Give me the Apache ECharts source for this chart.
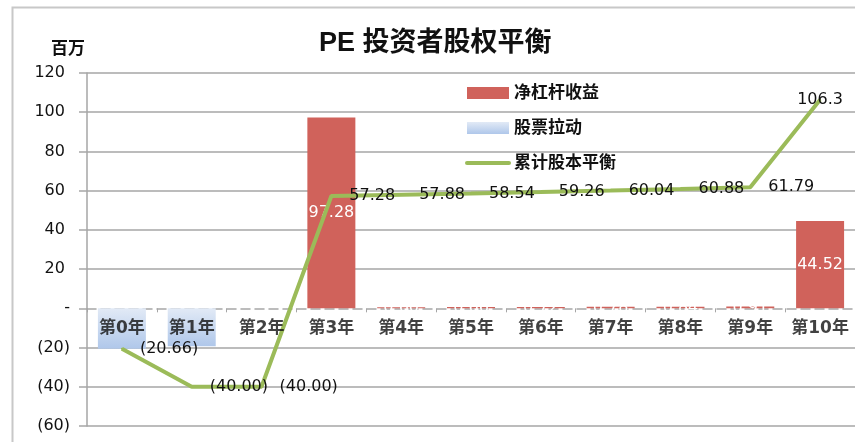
<!DOCTYPE html>
<html>
<head>
<meta charset="utf-8">
<script src="https://cdn.jsdelivr.net/npm/echarts@6/dist/echarts.min.js"></script>
<style>
html,body{margin:0;padding:0;background:#fff;}
#chart{width:855px;height:442px;}
</style>
</head>
<body>
<div id="chart"></div>
<script>
const categories = ['第0年','第1年','第2年','第3年','第4年','第5年','第6年','第7年','第8年','第9年','第10年'];
const netLeverage = [null, null, null, 97.28, 0.60, 0.66, 0.72, 0.78, 0.84, 0.91, 44.52];
const stockPull = [-20.66, -19.34, null, null, null, null, null, null, null, null, null];
const cumulative = [-20.66, -40.00, -40.00, 57.28, 57.88, 58.54, 59.26, 60.04, 60.88, 61.79, 106.3];
const seriesNames = ['净杠杆收益', '股票拉动', '累计股本平衡'];
const yMin = -60, yMax = 120, yStep = 20;

const CJK = '"Liberation Sans","Noto Sans CJK SC",sans-serif';
const NUM = '"DejaVu Sans","Noto Sans CJK SC",sans-serif';
const chart = echarts.init(document.getElementById('chart'));

const gridColors = [];
for (let v = yMin; v <= yMax; v += yStep) gridColors.push(v === 0 ? 'rgba(0,0,0,0)' : '#A6A6A6');

const lineData = cumulative.map((v, i) => {
  if (i === cumulative.length - 1) return { value: v, label: { position: 'inside' } };
  return v;
});

chart.setOption({
  animation: false,
  textStyle: { fontFamily: CJK },
  graphic: [{
    type: 'rect', left: 10, top: 5, z: -10,
    shape: { width: 900, height: 500 },
    style: { fill: 'none', stroke: '#C8C8C8', lineWidth: 2 }
  }],
  title: {
    text: 'PE 投资者股权平衡',
    left: 319, top: 30, padding: 0,
    textStyle: { fontFamily: CJK, fontSize: 27, fontWeight: 'bold', color: '#111' }
  },
  legend: {
    orient: 'vertical',
    left: 465, top: 84, padding: 0,
    itemWidth: 42, itemHeight: 12, itemGap: 17,
    textStyle: { fontFamily: CJK, fontSize: 17, lineHeight: 18, fontWeight: 'bold', color: '#111' },
    data: [
      { name: seriesNames[0], icon: 'rect' },
      { name: seriesNames[1], icon: 'rect' },
      { name: seriesNames[2], itemStyle: { opacity: 0 }, lineStyle: { width: 4, cap: 'round', color: '#9BBB59' } }
    ]
  },
  grid: { left: 87, top: 73, bottom: 16, right: 0, containLabel: false, outerBoundsMode: 'none' },
  xAxis: {
    type: 'category',
    data: categories,
    axisLine: { onZero: true, lineStyle: { color: '#A6A6A6', width: 1.5, type: [9, 5] } },
    axisTick: { show: true, length: 4, lineStyle: { color: '#A6A6A6', width: 1 } },
    axisLabel: { show: false },
    splitLine: { show: false }
  },
  yAxis: {
    type: 'value',
    min: yMin, max: yMax, interval: yStep,
    name: '百万',
    nameLocation: 'end',
    nameGap: 24,
    nameTextStyle: { align: 'right', verticalAlign: 'middle', padding: [0, 2, 0, 0], fontSize: 17, fontWeight: 'bold', color: '#111', fontFamily: CJK },
    axisLine: { show: true, lineStyle: { color: '#A6A6A6', width: 1.5 } },
    axisTick: { show: true, length: 8, lineStyle: { color: '#A6A6A6', width: 1.5 } },
    axisLabel: {
      margin: 17, fontSize: 16, color: '#111', fontFamily: NUM,
      formatter: v => v === 0 ? '-' : (v < 0 ? '(' + Math.abs(v) + ')' : String(v) + '\u00a0')
    },
    splitLine: { show: true, lineStyle: { color: gridColors, width: 1.5 } }
  },
  series: [
    {
      name: seriesNames[0], type: 'bar', data: netLeverage,
      barWidth: 48, barGap: '-100%',
      itemStyle: { color: '#D0625B' },
      label: {
        show: true, position: 'inside', color: '#fff', fontSize: 16, fontFamily: NUM,
        formatter: p => p.value == null ? '' : p.value.toFixed(2)
      },
      z: 2
    },
    {
      name: seriesNames[1], type: 'bar', data: stockPull,
      barWidth: 48, barGap: '-100%',
      itemStyle: {
        color: new echarts.graphic.LinearGradient(0, 0, 0, 1, [
          { offset: 0, color: '#E2EAF6' },
          { offset: 1, color: '#AFC7EA' }
        ])
      },
      z: 2
    },
    {
      name: seriesNames[2], type: 'line', data: lineData,
      symbol: 'circle', symbolSize: 2, showSymbol: true,
      lineStyle: { color: '#9BBB59', width: 4 },
      itemStyle: { color: '#9BBB59' },
      label: {
        show: true, position: 'right', distance: 17, color: '#111', fontSize: 16, fontFamily: NUM,
        formatter: p => {
          const v = typeof p.value === 'object' ? p.value.value : p.value;
          const s = Math.abs(v).toPrecision(4);
          return v < 0 ? '(' + s + ')' : s;
        }
      },
      z: 5
    },
    {
      name: 'axisLabels', type: 'scatter',
      data: categories.map(c => [c, 0]),
      symbolSize: 0,
      silent: true,
      label: {
        show: true, position: 'bottom', distance: 12,
        fontSize: 17, fontWeight: 'bold', color: '#111', fontFamily: NUM,
        formatter: p => p.value[0]
      },
      z: 6
    }
  ]
});
</script>
</body>
</html>
